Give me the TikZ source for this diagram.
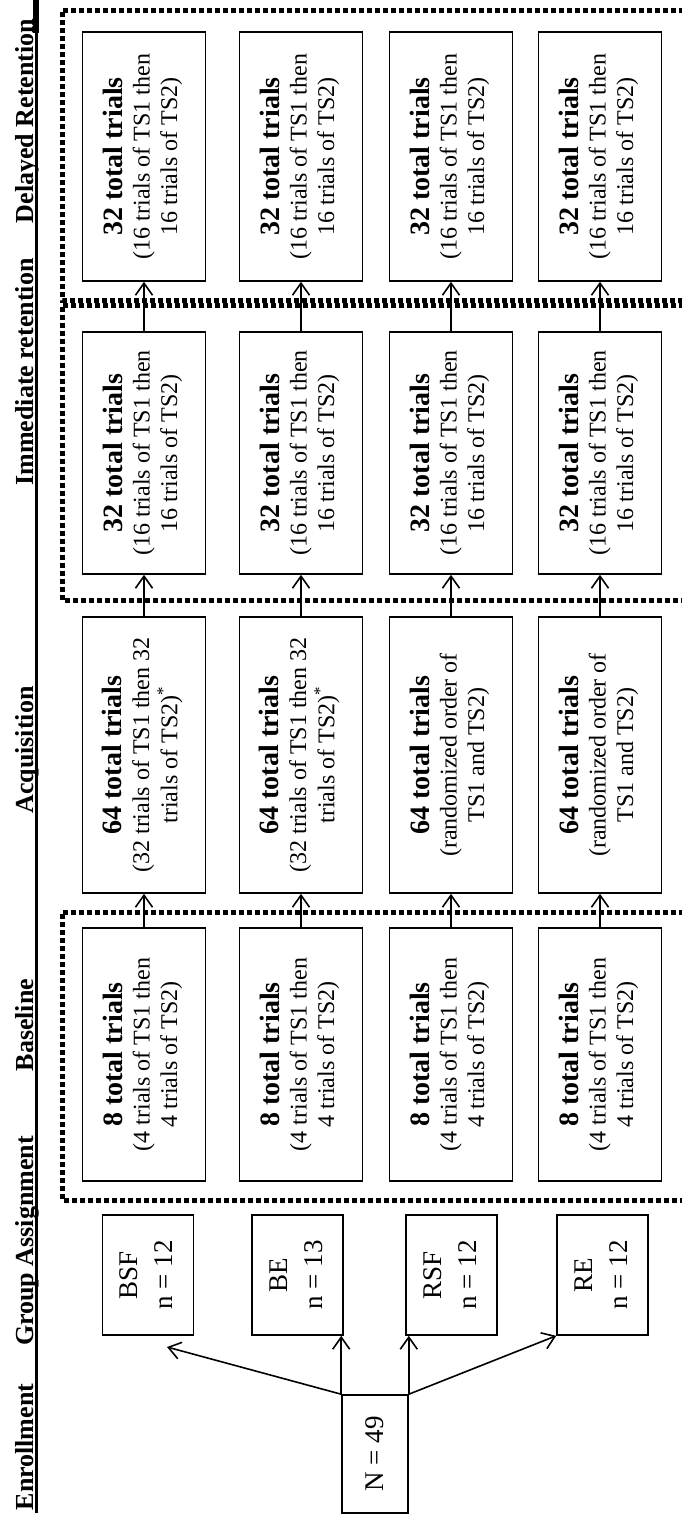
\documentclass[tikz,border=0pt]{standalone}
\usepackage{fontspec}
\setmainfont{Liberation Serif}
\usepackage{graphicx}
\usetikzlibrary{arrows.meta}
\newcommand{\boxtxt}[3]{\rotatebox{90}{\fontsize{24}{27.5}\selectfont\begin{tabular}{@{}c@{}}{\fontsize{28}{28}\selectfont\bfseries #1}\\#2\\#3\end{tabular}}}
\newcommand{\grptxt}[2]{\rotatebox{90}{\fontsize{27}{35}\selectfont\begin{tabular}{@{}c@{}}#1\\#2\end{tabular}}}
\begin{document}
\begin{tikzpicture}[x=1pt,y=-1pt,
  box/.style={draw, line width=1.6pt, inner sep=0pt, minimum width=123pt},
  grp/.style={draw, line width=1.6pt, inner sep=0pt, minimum width=91pt, minimum height=120pt},
  conn/.style={line width=1.6pt, -{Straight Barb[length=12pt,width=17pt]}},
  frame/.style={line width=5pt, dash pattern=on 5pt off 3pt},
  hdr/.style={font=\fontsize{26}{30}\selectfont\bfseries, inner sep=0pt, anchor=west}]
\useasboundingbox (0,0) rectangle (682,1519);
% header
\draw[line width=3pt] (36,0) -- (36,1513);
\draw[line width=6pt] (36,0) -- (36,33);
\node[hdr] (hE) at (15,1447) {\rotatebox{90}{Enrollment}};
\node[hdr] (hG) at (15,1241) {\rotatebox{90}{Group Assignment}};
\node[hdr] (hB) at (15,1025) {\rotatebox{90}{Baseline}};
\node[hdr] (hA) at (15,750) {\rotatebox{90}{Acquisition}};
\node[hdr] (hI) at (15,372) {\rotatebox{90}{Immediate retention}};
\node[hdr] (hD) at (15,121) {\rotatebox{90}{Delayed Retention}};
% frames
\draw[frame] (684,10) -- (62,10) -- (62,300) -- (684,300);
\draw[frame] (684,305) -- (62,305) -- (62,600) -- (684,600);
\draw[frame] (684,912) -- (62,912) -- (62,1200) -- (684,1200);
% columns
\foreach \n/\x in {1/144,2/301,3/451,4/600}{
  \node[box, minimum height=249pt] (d\n) at (\x,156.5) {\boxtxt{32 total trials}{(16 trials of TS1 then}{16 trials of TS2)}};
  \node[box, minimum height=242pt] (i\n) at (\x,453) {\boxtxt{32 total trials}{(16 trials of TS1 then}{16 trials of TS2)}};
  \node[box, minimum height=253pt] (b\n) at (\x,1054.5) {\boxtxt{8 total trials}{(4 trials of TS1 then}{4 trials of TS2)}};
}
\node[box, minimum height=276pt] (a1) at (144,755) {\boxtxt{64 total trials}{(32 trials of TS1 then 32}{trials of TS2)\textsuperscript{*}}};
\node[box, minimum height=276pt] (a2) at (301,755) {\boxtxt{64 total trials}{(32 trials of TS1 then 32}{trials of TS2)\textsuperscript{*}}};
\node[box, minimum height=276pt] (a3) at (451,755) {\boxtxt{64 total trials}{(randomized order of}{TS1 and TS2)}};
\node[box, minimum height=276pt] (a4) at (600,755) {\boxtxt{64 total trials}{(randomized order of}{TS1 and TS2)}};
% groups
\node[grp] (BSF) at (148,1275) {\grptxt{BSF}{n = 12}};
\node[grp] (BE) at (297.5,1275) {\grptxt{BE}{n = 13}};
\node[grp] (RSF) at (451.5,1275) {\grptxt{RSF}{n = 12}};
\node[grp] (RE) at (602.5,1275) {\grptxt{RE}{n = 12}};
\node[draw, line width=1.6pt, inner sep=0pt, minimum width=66pt, minimum height=118pt, font=\fontsize{27}{35}\selectfont] (N) at (375,1454) {\rotatebox{90}{N = 49}};
% connectors
\foreach \n in {1,2,3,4}{
  \draw[conn] (b\n.north) -- (b\n.north |- a\n.south);
  \draw[conn] (a\n.north) -- (a\n.north |- i\n.south);
  \draw[conn] (i\n.north) -- (i\n.north |- d\n.south);
}
\coordinate (tBSF) at (167,1347);
\draw[conn] (N.north west) -- (tBSF);
\draw[conn] (N.north west) -- (N.north west |- BE.south);
\draw[conn] (N.north east) -- (N.north east |- RSF.south);
\draw[conn] (N.north east) -- (RE.south west);
\end{tikzpicture}
\end{document}
